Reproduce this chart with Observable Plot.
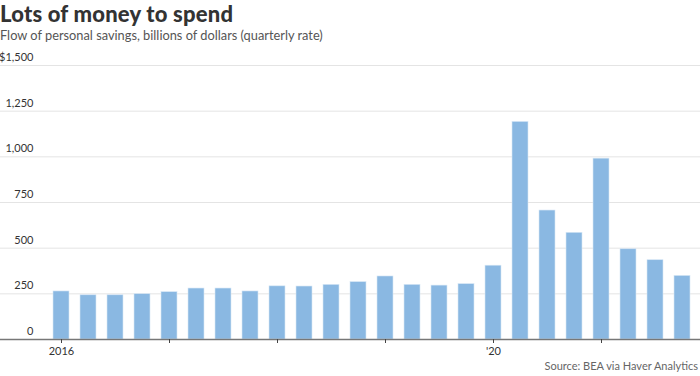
<!DOCTYPE html>
<html>
<head>
<meta charset="utf-8">
<script src="https://cdn.jsdelivr.net/npm/d3@7"></script>
<script src="https://cdn.jsdelivr.net/npm/@observablehq/plot@0.6"></script>
<style>
  html, body { margin: 0; padding: 0; background: #fff; }
  #wrap { position: relative; width: 700px; height: 376px; overflow: hidden; font-family: Lato, "Noto Sans", sans-serif; }
  #title { position: absolute; left: 0; top: 0; font-size: 22px; font-weight: 900; color: #333; line-height: 28px; letter-spacing: 0.2px; }
  #subtitle { position: absolute; left: 0; top: 26px; font-size: 12.8px; color: #555; line-height: 18px; }
  #chart { position: absolute; left: 0; top: 44px; }
  #source { position: absolute; right: 2px; top: 359px; font-size: 11px; color: #666; line-height: 14px; }
</style>
</head>
<body>
<div id="wrap">
  <div id="title">Lots of money to spend</div>
  <div id="subtitle">Flow of personal savings, billions of dollars (quarterly rate)</div>
  <div id="chart"></div>
  <div id="source">Source: BEA via Haver Analytics</div>
</div>
<script>
const quarters = [
  "2016Q1","2016Q2","2016Q3","2016Q4",
  "2017Q1","2017Q2","2017Q3","2017Q4",
  "2018Q1","2018Q2","2018Q3","2018Q4",
  "2019Q1","2019Q2","2019Q3","2019Q4",
  "2020Q1","2020Q2","2020Q3","2020Q4",
  "2021Q1","2021Q2","2021Q3","2021Q4"
];
const savings = [263,242,242,248,259,279,279,263,291,290,299,314,345,299,295,303,404,1191,706,584,990,494,434,348];
const yTicks = [0,250,500,750,1000,1250,1500];
const yTickLabels = ["0","250","500","750","1,000","1,250","$1,500"];
const xTicks = ["2016Q1","2017Q1","2018Q1","2019Q1","2020Q1","2021Q1"];
const xTickLabels = ["2016","","","","'20",""];

const data = quarters.map((q, i) => ({q, v: savings[i]}));
const yTickData = yTicks.map((v, i) => ({v, label: yTickLabels[i]}));

const chart = Plot.plot({
  width: 700,
  height: 315,
  marginLeft: 0,
  marginRight: 0,
  marginTop: 21,
  marginBottom: 20,
  style: {fontFamily: "Lato, 'Noto Sans', sans-serif", fontSize: "11px", color: "#333", background: "transparent"},
  x: {type: "band", domain: quarters, range: [44, 699], paddingInner: 0.4, paddingOuter: 0.3, axis: null, label: null},
  y: {domain: [0, 1500], axis: null, label: null},
  marks: [
    Plot.ruleY(yTicks.filter(d => d > 0), {stroke: "#e4e4e4", strokeWidth: 1}),
    Plot.text(yTickData, {y: "v", text: "label", frameAnchor: "left", dx: 33, dy: -8, textAnchor: "end", fill: "#333", fontSize: 11}),
    Plot.barY(data, {x: "q", y: "v", fill: "#8ab8e2", stroke: "#d6e6f5", strokeWidth: 0.6}),
    Plot.ruleY([0], {stroke: "#777", strokeWidth: 1.5}),
    Plot.axisX(xTicks, {tickSize: 4, tickPadding: 4, stroke: "#444", fill: "#333", fontSize: 11, label: null,
      tickFormat: d => xTickLabels[xTicks.indexOf(d)]})
  ]
});
document.getElementById("chart").appendChild(chart);
</script>
</body>
</html>
